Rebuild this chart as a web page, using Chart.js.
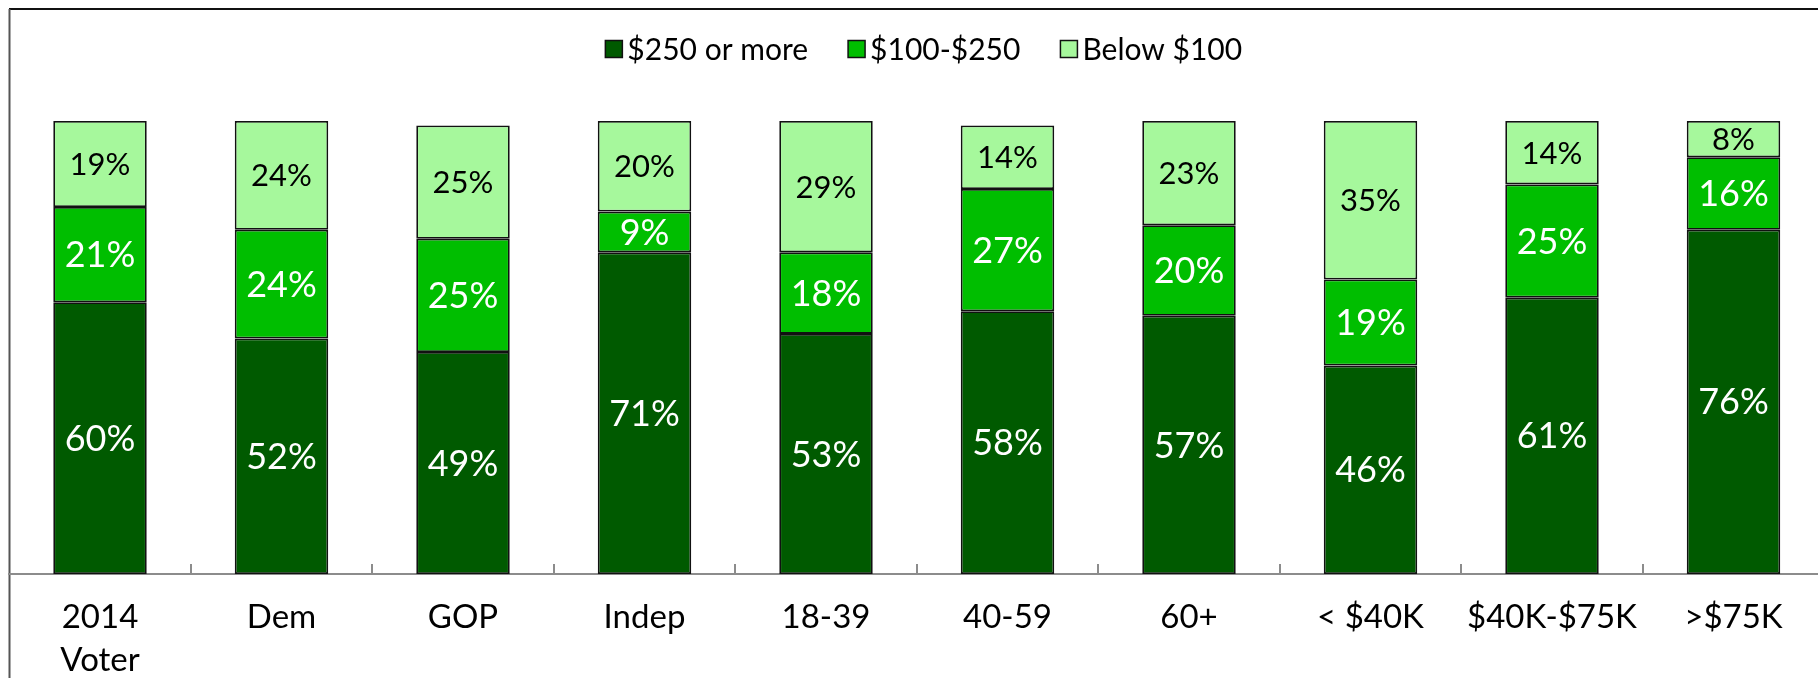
<!DOCTYPE html>
<html>
<head>
<meta charset="utf-8">
<script src="https://cdn.jsdelivr.net/npm/chart.js@4/dist/chart.umd.min.js"></script>
<style>
  html, body { margin: 0; padding: 0; background: #fff; overflow: hidden; width: 1818px; height: 678px; }
  #wrap { position: absolute; left: 0; top: 0; width: 1834px; height: 678px; }
  canvas { display: block; }
</style>
</head>
<body>
<div id="wrap"><canvas id="c" width="1834" height="678"></canvas></div>
<script>
const categories = [['2014', 'Voter'], 'Dem', 'GOP', 'Indep', '18-39', '40-59', '60+', '< $40K', '$40K-$75K', '>$75K'];
const seriesNames = ['$250 or more', '$100-$250', 'Below $100'];
const over250 = [60, 52, 49, 71, 53, 58, 57, 46, 61, 76];
const from100to250 = [21, 24, 25, 9, 18, 27, 20, 19, 25, 16];
const below100 = [19, 24, 25, 20, 29, 14, 23, 35, 14, 8];
const colors = ['#005A00', '#00BE00', '#A6F89C'];
const labelColors = ['#ffffff', '#ffffff', '#000000'];
const labelSizes = [36, 36, 31];
const FONT = 'Lato, "Noto Sans", sans-serif';

const seriesValues = [over250, from100to250, below100];
const datasets = seriesNames.map((name, i) => ({
  label: name,
  data: seriesValues[i],
  backgroundColor: colors[i],
  borderColor: '#111',
  borderWidth: 1.8,
  borderSkipped: false,
  categoryPercentage: 1,
  barPercentage: 0.515
}));

const decorPlugin = {
  id: 'decor',
  beforeDraw(chart) {
    const ctx = chart.ctx;
    ctx.save();
    ctx.strokeStyle = '#111';
    ctx.lineWidth = 2;
    ctx.beginPath();
    ctx.moveTo(9, 9); ctx.lineTo(chart.width, 9);
    ctx.stroke();
    ctx.strokeStyle = '#555';
    ctx.beginPath();
    ctx.moveTo(9.5, 9); ctx.lineTo(9.5, chart.height);
    ctx.stroke();
    ctx.restore();
  },
  afterDatasetsDraw(chart) {
    const ctx = chart.ctx;
    const xs = chart.scales.x;
    const area = chart.chartArea;
    ctx.save();
    ctx.strokeStyle = '#8c8c8c';
    ctx.lineWidth = 2;
    const n = chart.data.labels.length;
    const step = xs.getPixelForValue(1) - xs.getPixelForValue(0);
    for (let i = 1; i <= n; i++) {
      const x = Math.round(xs.getPixelForValue(i) - step / 2);
      ctx.beginPath();
      ctx.moveTo(x, area.bottom);
      ctx.lineTo(x, area.bottom - 10);
      ctx.stroke();
    }
    ctx.textAlign = 'center';
    ctx.textBaseline = 'middle';
    chart.data.datasets.forEach((ds, di) => {
      const meta = chart.getDatasetMeta(di);
      ctx.fillStyle = labelColors[di];
      ctx.font = labelSizes[di] + 'px ' + FONT;
      meta.data.forEach((bar, j) => {
        const v = ds.data[j];
        const yc = (bar.y + bar.base) / 2;
        ctx.fillText(v + '%', bar.x, yc + 1);
      });
    });
    ctx.font = '30px ' + FONT;
    ctx.textAlign = 'left';
    const box = 17, gapText = 5, gapItem = 40;
    const widths = chart.data.datasets.map(ds => ctx.measureText(ds.label).width);
    const total = widths.reduce((a, w) => a + box + gapText + w, 0) + gapItem * (widths.length - 1);
    let x = (area.left + area.right) / 2 - total / 2 + 7;
    const ly = 49;
    chart.data.datasets.forEach((ds, di) => {
      ctx.fillStyle = ds.backgroundColor;
      ctx.fillRect(x, ly - box / 2, box, box);
      ctx.strokeStyle = '#111';
      ctx.lineWidth = 1.5;
      ctx.strokeRect(x, ly - box / 2, box, box);
      ctx.fillStyle = '#000';
      ctx.fillText(ds.label, x + box + gapText, ly + 1);
      x += box + gapText + widths[di] + gapItem;
    });
    ctx.restore();
  }
};

new Chart(document.getElementById('c'), {
  type: 'bar',
  data: { labels: categories, datasets },
  options: {
    responsive: false,
    animation: false,
    devicePixelRatio: 1,
    layout: { padding: { top: 121, left: 9.25, right: 9.75, bottom: 0 } },
    plugins: { legend: { display: false }, tooltip: { enabled: false } },
    scales: {
      x: {
        stacked: true,
        grid: { display: false },
        border: { display: true, color: '#8c8c8c', width: 2 },
        ticks: {
          color: '#000',
          font: { family: FONT, size: 33, lineHeight: 1.33 },
          padding: 13,
          maxRotation: 0,
          autoSkip: false
        },
        afterFit(scale) { scale.height = 104; }
      },
      y: {
        stacked: true,
        display: false,
        min: 0,
        max: 100
      }
    }
  },
  plugins: [decorPlugin]
});
</script>
</body>
</html>
